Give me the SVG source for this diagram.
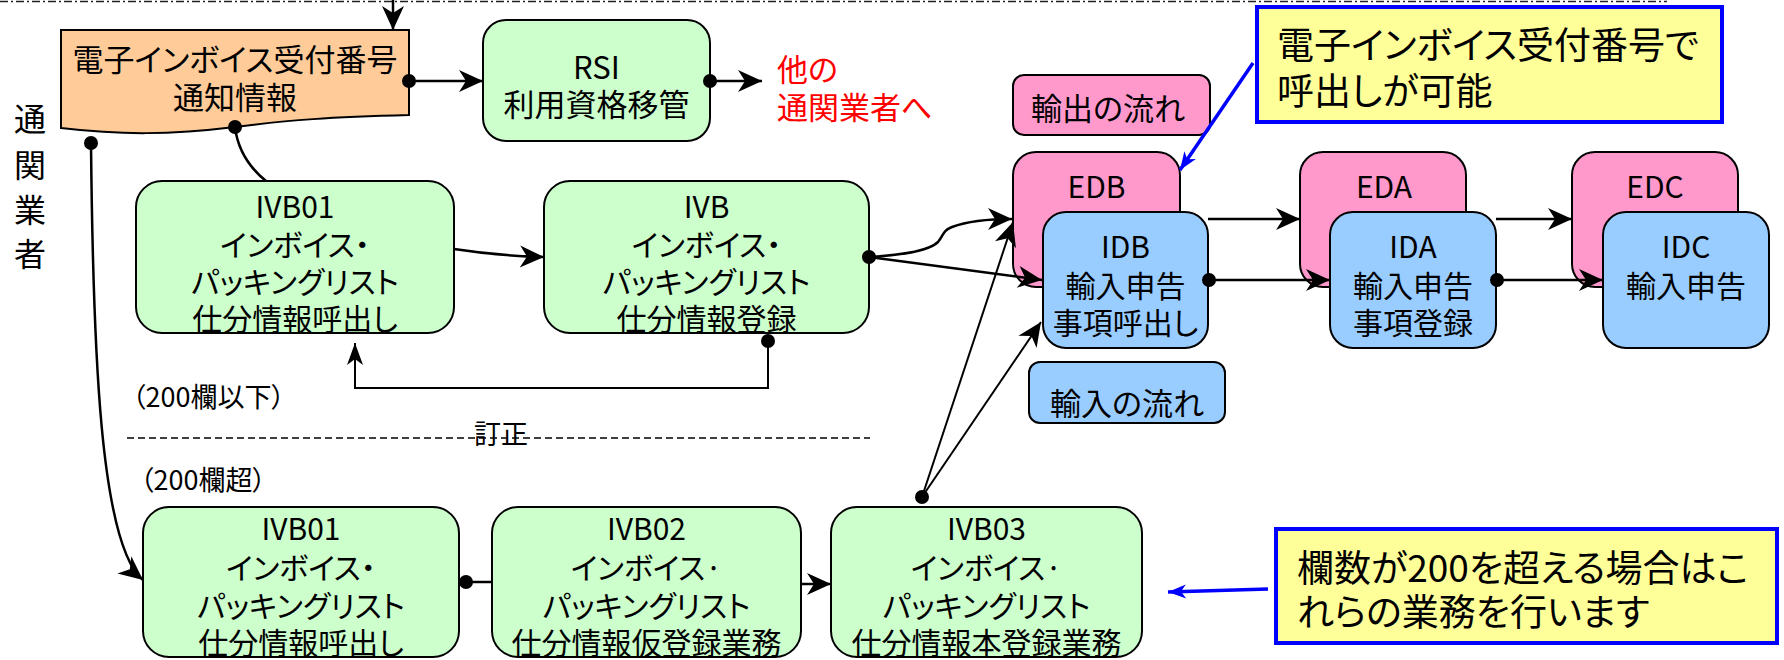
<svg xmlns="http://www.w3.org/2000/svg" width="1784" height="660" viewBox="0 0 1784 660">
<style>
  text { font-family: "Noto Sans CJK JP", "Liberation Sans", sans-serif; font-feature-settings: "palt"; fill: #000; }
  .t { font-size: 30px; text-anchor: middle; dominant-baseline: central; }
  .tl { font-size: 31px; text-anchor: start; dominant-baseline: central; }
  .lbl { font-size: 27px; text-anchor: start; dominant-baseline: central; }
  .call { font-size: 37px; text-anchor: start; dominant-baseline: central; }
  .red { fill: #ff0000; }
  .box { stroke: #000; stroke-width: 2; }
  .green { fill: #ccffcc; }
  .orange { fill: #ffcc99; }
  .pink { fill: #ff99cc; }
  .blue { fill: #99ccff; }
  .callout { fill: #ffff99; stroke: #0000ff; stroke-width: 4; }
  .c { fill: none; stroke: #000; stroke-width: 2.5; }
  .thin { fill: none; stroke: #000; stroke-width: 2; }
  .arr { marker-end: url(#ah); }
  .sarr { marker-end: url(#sah); }
  .bl { fill: none; stroke: #0000ff; stroke-width: 3.5; marker-end: url(#bah); }
  .dot { fill: #000; }
</style>
<defs>
  <marker id="ah" markerUnits="userSpaceOnUse" markerWidth="26" markerHeight="24" refX="24" refY="11" orient="auto" overflow="visible">
    <path d="M0,0 L24,11 L0,22 L7,11 Z" fill="#000"/>
  </marker>
  <marker id="sah" markerUnits="userSpaceOnUse" markerWidth="24" markerHeight="18" refX="22" refY="8" orient="auto" overflow="visible">
    <path d="M0,0 L22,8 L0,16 L6,8 Z" fill="#000"/>
  </marker>
  <marker id="bah" markerUnits="userSpaceOnUse" markerWidth="20" markerHeight="16" refX="18" refY="7" orient="auto" overflow="visible">
    <path d="M0,0 L18,7 L0,14 L5,7 Z" fill="#0000ff"/>
  </marker>
</defs>

<rect width="1784" height="660" fill="#fff"/>

<!-- top dash-dot border line -->
<path d="M0,1.5 H1667" fill="none" stroke="#222" stroke-width="1.5" stroke-dasharray="8,3,2,3"/>

<g id="side-label">
  <text class="t" x="30" y="117" style="font-size:32px">通</text>
  <text class="t" x="30" y="163" style="font-size:32px">関</text>
  <text class="t" x="30" y="208" style="font-size:32px">業</text>
  <text class="t" x="30" y="252" style="font-size:32px">者</text>
</g>

<g id="einvoice-notice">
  <path class="box orange" d="M61,30 H409 V115 C 330,117 290,120 235,127 C 170,135 120,135 61,128 Z"/>
  <text class="t" x="235" y="57" style="font-size:31px">電子インボイス受付番号</text>
  <text class="t" x="235" y="95" style="font-size:31px">通知情報</text>
</g>

<g id="rsi">
  <rect class="box green" x="483" y="20" width="227" height="121" rx="23"/>
  <text class="t" x="596.5" y="65" style="font-size:31px">RSI</text>
  <text class="t" x="596.5" y="102" style="font-size:31px">利用資格移管</text>
</g>

<g id="other-broker">
  <text class="tl red" x="777" y="67">他の</text>
  <text class="tl red" x="777" y="105">通関業者へ</text>
</g>

<g id="ivb01-top">
  <rect class="box green" x="136" y="181" width="318" height="152" rx="26"/>
  <text class="t" x="295" y="205">IVB01</text>
  <text class="t" x="295" y="243">インボイス・</text>
  <text class="t" x="295" y="280">パッキングリスト</text>
  <text class="t" x="295" y="317">仕分情報呼出し</text>
</g>

<g id="ivb-top">
  <rect class="box green" x="544" y="181" width="325" height="152" rx="26"/>
  <text class="t" x="706.5" y="205">IVB</text>
  <text class="t" x="706.5" y="243">インボイス・</text>
  <text class="t" x="706.5" y="280">パッキングリスト</text>
  <text class="t" x="706.5" y="317">仕分情報登録</text>
</g>

<g id="export-flow-label">
  <rect class="box pink" x="1013" y="75" width="197" height="60" rx="11"/>
  <text class="t" x="1108" y="106" style="font-size:31px">輸出の流れ</text>
</g>

<g id="edb">
  <rect class="box pink" x="1013" y="152" width="167" height="135" rx="23"/>
  <text class="t" x="1096.5" y="185">EDB</text>
</g>
<g id="idb">
  <rect class="box blue" x="1043" y="212" width="165" height="136" rx="23"/>
  <text class="t" x="1125.5" y="245">IDB</text>
  <text class="t" x="1125.5" y="284">輸入申告</text>
  <text class="t" x="1125.5" y="321">事項呼出し</text>
</g>

<g id="eda">
  <rect class="box pink" x="1300" y="152" width="166" height="135" rx="23"/>
  <text class="t" x="1384" y="185">EDA</text>
</g>
<g id="ida">
  <rect class="box blue" x="1330" y="212" width="166" height="136" rx="23"/>
  <text class="t" x="1413" y="245">IDA</text>
  <text class="t" x="1413" y="284">輸入申告</text>
  <text class="t" x="1413" y="321">事項登録</text>
</g>

<g id="edc">
  <rect class="box pink" x="1572" y="152" width="166" height="135" rx="23"/>
  <text class="t" x="1655" y="185">EDC</text>
</g>
<g id="idc">
  <rect class="box blue" x="1603" y="212" width="166" height="136" rx="23"/>
  <text class="t" x="1686" y="245">IDC</text>
  <text class="t" x="1686" y="284">輸入申告</text>
</g>

<g id="import-flow-label">
  <rect class="box blue" x="1029" y="362" width="196" height="61" rx="11"/>
  <text class="t" x="1127" y="401" style="font-size:31px">輸入の流れ</text>
</g>

<g id="callout-top">
  <rect class="callout" x="1257" y="7" width="465" height="115"/>
  <text class="call" x="1277" y="43">電子インボイス受付番号で</text>
  <text class="call" x="1277" y="89">呼出しが可能</text>
</g>

<g id="section-labels">
  <text class="lbl" x="132" y="395">（200欄以下）</text>
  <path d="M127,438 H870" fill="none" stroke="#000" stroke-width="1.5" stroke-dasharray="7,4"/>
  <text class="lbl" x="474" y="432">訂正</text>
  <text class="lbl" x="140" y="478">（200欄超）</text>
</g>

<g id="ivb01-bottom">
  <rect class="box green" x="143" y="507" width="316" height="150" rx="26"/>
  <text class="t" x="301" y="527">IVB01</text>
  <text class="t" x="301" y="566">インボイス・</text>
  <text class="t" x="301" y="604">パッキングリスト</text>
  <text class="t" x="301" y="641">仕分情報呼出し</text>
</g>

<g id="ivb02">
  <rect class="box green" x="492" y="507" width="309" height="150" rx="26"/>
  <text class="t" x="646.5" y="527">IVB02</text>
  <text class="t" x="646.5" y="566">インボイス·</text>
  <text class="t" x="646.5" y="604">パッキングリスト</text>
  <text class="t" x="646.5" y="641">仕分情報仮登録業務</text>
</g>

<g id="ivb03">
  <rect class="box green" x="831" y="507" width="311" height="150" rx="26"/>
  <text class="t" x="986.5" y="527">IVB03</text>
  <text class="t" x="986.5" y="566">インボイス·</text>
  <text class="t" x="986.5" y="604">パッキングリスト</text>
  <text class="t" x="986.5" y="641">仕分情報本登録業務</text>
</g>

<g id="callout-bottom">
  <rect class="callout" x="1276" y="529" width="501" height="114"/>
  <text class="call" x="1297" y="566">欄数が200を超える場合はこ</text>
  <text class="call" x="1297" y="610">れらの業務を行います</text>
</g>

<g id="connectors">
  <path class="c arr" d="M393,0 V30"/>
  <path class="c arr" d="M409,81 H483"/>
  <circle class="dot" cx="409" cy="81" r="7"/>
  <path class="c arr" d="M710,81 H762"/>
  <circle class="dot" cx="710" cy="81" r="7"/>
  <path class="c" d="M235,127 C 238,152 250,168 266,181"/>
  <circle class="dot" cx="235" cy="127" r="7"/>
  <path class="c arr" d="M91,143 C 93,350 100,545 143,580"/>
  <circle class="dot" cx="91" cy="143" r="7"/>
  <path class="c arr" d="M454,249 Q 500,256 544,257"/>
  <path class="c arr" d="M869,257 C 905,255 930,250 938,242 C 944,235 942,231 952,227 C 968,221 990,219 1012,219"/>
  <path class="c arr" d="M869,257 L1042,280"/>
  <circle class="dot" cx="869" cy="257" r="7"/>
  <path class="thin sarr" d="M768,341 V388 H355 V343"/>
  <circle class="dot" cx="768" cy="341" r="7"/>
  <path class="c" d="M466,582 H492"/>
  <circle class="dot" cx="466" cy="582" r="7"/>
  <path class="c arr" d="M801,584 H831"/>
  <path class="thin arr" d="M922,497 L1013,222"/>
  <path class="thin arr" d="M922,497 L1041,322"/>
  <circle class="dot" cx="922" cy="497" r="7"/>
  <path class="c arr" d="M1208,219 H1300"/>
  <path class="c arr" d="M1209,280 H1330"/>
  <circle class="dot" cx="1209" cy="280" r="7"/>
  <path class="c arr" d="M1496,219 H1572"/>
  <path class="c arr" d="M1497,280 H1603"/>
  <circle class="dot" cx="1497" cy="280" r="7"/>
  <path class="bl" d="M1253,63 L1180,170"/>
  <path class="bl" d="M1268,589 L1168,592"/>
</g>
</svg>
